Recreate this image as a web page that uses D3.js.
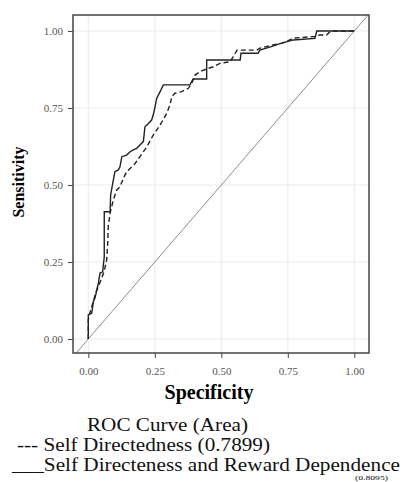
<!DOCTYPE html>
<html>
<head>
<meta charset="utf-8">
<script src="https://cdn.jsdelivr.net/npm/d3@7"></script>
<style>
  body { margin: 0; background: #fff; }
  svg { display: block; }
</style>
</head>
<body>
<div id="chart"></div>
<script>
// ticks
const xTicks = [0, 0.25, 0.5, 0.75, 1];
const yTicks = [0, 0.25, 0.5, 0.75, 1];

// Self Directedness (dashed)
const sdFpr = [0, 0, 0.006, 0.018, 0.029, 0.040, 0.048, 0.059, 0.069, 0.073, 0.075, 0.082, 0.094, 0.107, 0.119, 0.132, 0.144, 0.163, 0.176, 0.194, 0.220, 0.244, 0.270, 0.295, 0.307, 0.314, 0.326, 0.351, 0.376, 0.389, 0.401, 0.420, 0.445, 0.470, 0.495, 0.533, 0.545, 0.559, 0.614, 0.633, 0.645, 0.695, 0.727, 0.746, 0.771, 0.852, 0.871, 0.896, 0.909, 0.916, 1];
const sdTpr = [0, 0.062, 0.084, 0.120, 0.153, 0.175, 0.192, 0.218, 0.256, 0.312, 0.365, 0.409, 0.451, 0.484, 0.494, 0.522, 0.543, 0.559, 0.570, 0.592, 0.624, 0.662, 0.695, 0.733, 0.760, 0.787, 0.798, 0.803, 0.814, 0.830, 0.857, 0.868, 0.877, 0.884, 0.895, 0.900, 0.917, 0.938, 0.938, 0.938, 0.944, 0.955, 0.960, 0.966, 0.977, 0.982, 0.987, 0.987, 0.998, 1, 1];

// Self Directeness and Reward Dependence (solid)
const sdrdFpr = [0, 0, 0.013, 0.019, 0.025, 0.032, 0.038, 0.044, 0.054, 0.056, 0.060, 0.060, 0.082, 0.084, 0.092, 0.100, 0.113, 0.119, 0.126, 0.144, 0.157, 0.169, 0.182, 0.194, 0.207, 0.213, 0.226, 0.238, 0.244, 0.251, 0.257, 0.270, 0.282, 0.382, 0.394, 0.445, 0.445, 0.571, 0.574, 0.638, 0.645, 0.694, 0.720, 0.771, 0.852, 0.859, 1];
const sdrdTpr = [0, 0.078, 0.084, 0.121, 0.133, 0.159, 0.182, 0.214, 0.218, 0.235, 0.267, 0.413, 0.413, 0.468, 0.506, 0.543, 0.549, 0.559, 0.592, 0.597, 0.608, 0.614, 0.619, 0.630, 0.641, 0.689, 0.700, 0.711, 0.727, 0.754, 0.781, 0.803, 0.825, 0.825, 0.844, 0.844, 0.906, 0.906, 0.928, 0.928, 0.938, 0.951, 0.959, 0.971, 0.976, 1, 1];

const W = 404, H = 482;
const panel = { left: 73, top: 15, right: 369, bottom: 353 };

const svg = d3.select("#chart").append("svg")
  .attr("width", W).attr("height", H)
  .style("font-family", "'Liberation Serif', 'Times New Roman', serif");

const x = d3.scaleLinear().domain([0, 1]).range([88.3, 354.3]);
const y = d3.scaleLinear().domain([0, 1]).range([339, 31]);

svg.append("defs").append("clipPath").attr("id", "clip")
  .append("rect")
  .attr("x", panel.left).attr("y", panel.top)
  .attr("width", panel.right - panel.left).attr("height", panel.bottom - panel.top);

// grid
const grid = svg.append("g");
xTicks.forEach(t => {
  grid.append("line")
    .attr("x1", x(t)).attr("x2", x(t))
    .attr("y1", panel.top).attr("y2", panel.bottom)
    .attr("stroke", "#ebebeb").attr("stroke-width", 1);
});
yTicks.forEach(t => {
  grid.append("line")
    .attr("y1", y(t)).attr("y2", y(t))
    .attr("x1", panel.left).attr("x2", panel.right)
    .attr("stroke", "#ebebeb").attr("stroke-width", 1);
});

const plot = svg.append("g").attr("clip-path", "url(#clip)");

// reference diagonal across the panel
plot.append("line")
  .attr("x1", x(-0.1)).attr("y1", y(-0.1))
  .attr("x2", x(1.1)).attr("y2", y(1.1))
  .attr("stroke", "#8c8c8c").attr("stroke-width", 1);

const line = d3.line().x(d => x(d[0])).y(d => y(d[1]));

plot.append("path")
  .datum(d3.zip(sdFpr, sdTpr))
  .attr("d", line)
  .attr("fill", "none")
  .attr("stroke", "#222")
  .attr("stroke-width", 1.4)
  .attr("stroke-dasharray", "5,3");

plot.append("path")
  .datum(d3.zip(sdrdFpr, sdrdTpr))
  .attr("d", line)
  .attr("fill", "none")
  .attr("stroke", "#222")
  .attr("stroke-width", 1.4);

// panel border
svg.append("rect")
  .attr("x", panel.left).attr("y", panel.top)
  .attr("width", panel.right - panel.left).attr("height", panel.bottom - panel.top)
  .attr("fill", "none").attr("stroke", "#444").attr("stroke-width", 1.5);

// axes
const xAxis = svg.append("g")
  .attr("transform", `translate(0,${panel.bottom})`)
  .call(d3.axisBottom(x).tickValues(xTicks).tickFormat(d3.format(".2f")).tickSize(5).tickPadding(9));
const yAxis = svg.append("g")
  .attr("transform", `translate(${panel.left},0)`)
  .call(d3.axisLeft(y).tickValues(yTicks).tickFormat(d3.format(".2f")).tickSize(5).tickPadding(5));

[xAxis, yAxis].forEach(a => {
  a.select(".domain").remove();
  a.selectAll(".tick line").attr("stroke", "#444");
  a.selectAll(".tick text")
    .attr("fill", "#555")
    .style("font-family", "'Liberation Serif', serif")
    .style("font-size", "11px");
});

// axis titles
svg.append("text")
  .attr("x", 209).attr("y", 399)
  .attr("text-anchor", "middle")
  .style("font-weight", "bold").style("font-size", "20px")
  .text("Specificity");

svg.append("text")
  .attr("transform", "translate(24,182) rotate(-90)")
  .attr("text-anchor", "middle")
  .style("font-weight", "bold").style("font-size", "16px")
  .text("Sensitivity");

// caption below the plot (tight lines, stretched to the original widths)
const cap = svg.append("g").attr("fill", "#111").style("font-size", "18px");
const capLine = (txt, x0, base, len) => cap.append("text")
  .attr("x", x0).attr("y", base)
  .attr("textLength", len).attr("lengthAdjust", "spacingAndGlyphs")
  .text(txt);
capLine("ROC Curve (Area)", 87, 430.5, 161);
capLine("--- Self Directedness (0.7899)", 17, 450.5, 253);
capLine("___Self Directeness and Reward Dependence", 12, 470.5, 388);
svg.append("text")
  .attr("x", 355).attr("y", 480.3)
  .attr("textLength", 33).attr("lengthAdjust", "spacingAndGlyphs")
  .attr("fill", "#111").style("font-size", "7px")
  .text("(0.8095)");
</script>
</body>
</html>
